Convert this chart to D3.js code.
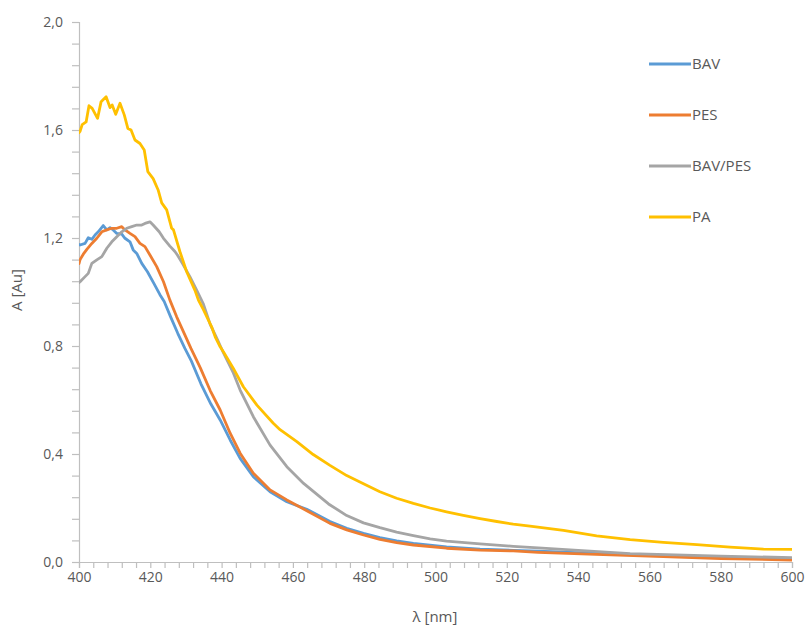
<!DOCTYPE html>
<html>
<head>
<meta charset="utf-8">
<script src="https://cdn.jsdelivr.net/npm/d3@7"></script>
<style>
  html, body { margin: 0; padding: 0; background: #fff; }
  svg { display: block; }
  text { font-family: "Open Sans", "Noto Sans", sans-serif; fill: #595959; }
</style>
</head>
<body>
<svg id="chart" width="809" height="625"></svg>
<script>
// ---- data ----
const seriesNames = ["BAV", "PES", "BAV/PES", "PA"];
const seriesColors = ["#5B9BD5", "#ED7D31", "#A5A5A5", "#FFC000"];
const xTicks = [400, 420, 440, 460, 480, 500, 520, 540, 560, 580, 600];
const yTicks = [0.0, 0.4, 0.8, 1.2, 1.6, 2.0];
const xLabel = "λ [nm]";
const yLabel = "A [Au]";

const bavData = [
  [400.0,1.176],[400.3,1.174],[401.7,1.18],[402.6,1.201],[403.6,1.195],[404.5,1.211],[405.4,1.223],
  [406.8,1.246],[407.8,1.23],[408.7,1.238],[409.6,1.23],[410.6,1.217],[412.0,1.214],[412.9,1.199],
  [414.3,1.186],[415.2,1.156],[416.2,1.143],[417.6,1.106],[419.2,1.075],[421.0,1.032],[422.7,0.99],
  [423.9,0.965],[425.7,0.908],[427.7,0.847],[429.7,0.791],[431.5,0.745],[434.2,0.66],[437.0,0.585],
  [439.6,0.526],[442.4,0.452],[445.2,0.384],[448.9,0.316],[453.6,0.26],[458.3,0.223],[463.9,0.195],
  [470.4,0.15],[475.1,0.125],[479.8,0.106],[484.4,0.09],[489.1,0.078],[493.8,0.069],[503.1,0.056],
  [512.5,0.048],[521.8,0.043],[528.8,0.04],[545.0,0.032],[563.9,0.024],[580.0,0.017],[600.0,0.011]
];
const pesData = [
  [400.0,1.105],[400.3,1.12],[401.2,1.14],[402.2,1.158],[403.6,1.18],[405.0,1.199],[406.4,1.223],
  [407.8,1.23],[409.2,1.236],[410.6,1.236],[412.0,1.242],[412.9,1.23],[414.3,1.217],[415.7,1.205],
  [417.1,1.18],[418.5,1.168],[419.9,1.137],[421.8,1.094],[423.7,1.038],[425.5,0.97],[427.4,0.908],
  [429.5,0.847],[431.4,0.791],[434.0,0.72],[436.8,0.635],[439.6,0.563],[442.4,0.477],[445.2,0.403],
  [448.9,0.329],[453.6,0.267],[458.3,0.23],[463.9,0.19],[470.4,0.143],[475.1,0.119],[479.8,0.1],
  [484.4,0.084],[489.1,0.072],[493.8,0.063],[503.1,0.051],[512.5,0.044],[521.8,0.041],[528.8,0.036],
  [545.0,0.028],[563.9,0.02],[580.0,0.013],[600.0,0.007]
];
const bavPesData = [
  [400.0,1.035],[400.3,1.038],[401.7,1.057],[402.6,1.069],[403.6,1.106],[405.0,1.119],[406.4,1.131],
  [407.8,1.162],[409.2,1.186],[410.6,1.205],[412.0,1.223],[413.4,1.236],[414.8,1.242],[416.2,1.248],
  [417.6,1.248],[418.5,1.254],[419.9,1.26],[420.8,1.248],[422.5,1.223],[423.7,1.199],[425.5,1.17],
  [426.9,1.15],[427.6,1.137],[429.0,1.106],[431.1,1.057],[433.0,1.007],[434.9,0.955],[436.8,0.88],
  [438.6,0.83],[440.5,0.775],[443.3,0.70],[445.2,0.637],[448.9,0.538],[453.6,0.433],[458.3,0.353],
  [463.0,0.291],[470.0,0.215],[475.1,0.172],[479.8,0.145],[484.4,0.127],[489.1,0.111],[493.8,0.098],
  [498.5,0.086],[503.1,0.077],[512.5,0.067],[521.8,0.058],[528.8,0.052],[554.6,0.031],[580.0,0.022],
  [600.0,0.016]
];
const paData = [
  [400.0,1.59],[400.3,1.595],[400.9,1.62],[402.0,1.63],[402.8,1.69],[403.7,1.68],[405.2,1.643],
  [406.2,1.705],[407.6,1.723],[408.7,1.683],[409.3,1.693],[410.3,1.658],[411.5,1.699],[412.7,1.656],
  [413.7,1.606],[414.6,1.60],[415.7,1.563],[417.1,1.55],[418.3,1.526],[419.3,1.446],[420.8,1.42],
  [422.2,1.378],[423.2,1.33],[424.6,1.304],[426.0,1.236],[426.5,1.23],[428.3,1.15],[430.2,1.075],
  [432.5,1.007],[433.5,0.97],[434.9,0.935],[437.2,0.871],[438.2,0.834],[439.6,0.797],[440.5,0.779],
  [443.3,0.717],[446.1,0.649],[449.9,0.581],[454.5,0.514],[456.4,0.49],[461.1,0.446],[465.7,0.398],
  [470.4,0.358],[475.1,0.32],[479.8,0.29],[484.4,0.26],[489.1,0.236],[493.8,0.217],[498.5,0.2],
  [503.1,0.186],[507.8,0.173],[512.5,0.161],[517.2,0.15],[521.8,0.14],[526.5,0.133],[535.9,0.117],
  [545.2,0.097],[554.6,0.083],[563.9,0.073],[573.3,0.064],[582.6,0.055],[592.0,0.048],[600.0,0.047]
];
const allSeries = [bavData, pesData, bavPesData, paData];

// ---- layout ----
const svg = d3.select("#chart");
const mLeft = 79, mRight = 792, mTop = 22, mBottom = 562;
const x = d3.scaleLinear().domain([400, 600]).range([mLeft, mRight]);
const y = d3.scaleLinear().domain([0, 2.0]).range([mBottom, mTop]);
const axisColor = "#bfbfbf";
const fmt = v => d3.format(".1f")(v).replace(".", ",");

// minor ticks
const xMinor = d3.range(400, 600.001, 4);
const yMinor = d3.range(0, 2.0001, 0.08);

// y axis
const gy = svg.append("g").attr("transform", `translate(${mLeft},0)`)
  .call(d3.axisLeft(y).tickValues(yMinor).tickSize(7).tickFormat(""));
gy.selectAll("path, line").attr("stroke", axisColor).attr("stroke-width", 1.2);
const gyl = svg.append("g").attr("transform", `translate(${mLeft},0)`)
  .call(d3.axisLeft(y).tickValues(yTicks).tickSize(0).tickPadding(16).tickFormat(fmt));
gyl.select(".domain").remove();
gyl.selectAll("text").attr("font-size", 14).attr("fill", "#595959")
  .attr("font-family", "'Open Sans', sans-serif");

// x axis
const gx = svg.append("g").attr("transform", `translate(0,${mBottom})`)
  .call(d3.axisBottom(x).tickValues(xMinor).tickSize(6).tickFormat(""));
gx.selectAll("path, line").attr("stroke", axisColor).attr("stroke-width", 1.2);
const gxl = svg.append("g").attr("transform", `translate(0,${mBottom})`)
  .call(d3.axisBottom(x).tickValues(xTicks).tickSize(0).tickPadding(10).tickFormat(d3.format("d")));
gxl.select(".domain").remove();
gxl.selectAll("text").attr("font-size", 14).attr("fill", "#595959")
  .attr("font-family", "'Open Sans', sans-serif");

// axis titles
svg.append("text").attr("x", 435).attr("y", 622).attr("text-anchor", "middle")
  .attr("font-size", 15).text(xLabel);
svg.append("text").attr("transform", "translate(22,290) rotate(-90)").attr("text-anchor", "middle")
  .attr("font-size", 15).text(yLabel);

// lines
svg.append("clipPath").attr("id", "clip").append("rect")
  .attr("x", mLeft).attr("y", mTop - 5).attr("width", mRight - mLeft).attr("height", mBottom - mTop + 5);
const line = d3.line().x(d => x(d[0])).y(d => y(d[1]));
const plot = svg.append("g").attr("clip-path", "url(#clip)");
allSeries.forEach((s, i) => {
  plot.append("path").datum(s).attr("d", line)
    .attr("fill", "none").attr("stroke", seriesColors[i])
    .attr("stroke-width", 2.8).attr("stroke-linejoin", "round").attr("stroke-linecap", "round");
});

// legend
const legendY = [64, 115, 166, 217];
seriesNames.forEach((name, i) => {
  svg.append("line").attr("x1", 649).attr("x2", 691)
    .attr("y1", legendY[i]).attr("y2", legendY[i])
    .attr("stroke", seriesColors[i]).attr("stroke-width", 2.8);
  svg.append("text").attr("x", 692).attr("y", legendY[i]).attr("dy", "0.36em")
    .attr("font-size", 15).text(name);
});
</script>
</body>
</html>
